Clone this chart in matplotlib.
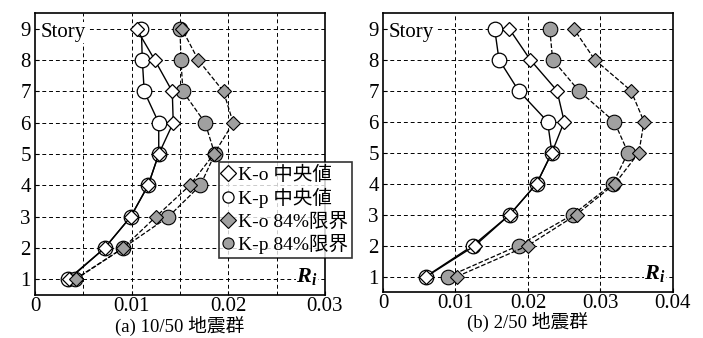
import numpy as np
import matplotlib.pyplot as plt

plt.rcParams['font.family'] = ['Liberation Serif', 'Noto Sans CJK JP']
plt.rcParams['mathtext.fontset'] = 'custom'
plt.rcParams['mathtext.bf'] = 'Liberation Serif:bold:italic'
plt.rcParams['mathtext.rm'] = 'Liberation Serif'

story = [1, 2, 3, 4, 5, 6, 7, 8, 9]

# (a) 10/50
a_ko_med = [0.0035, 0.0072, 0.0099, 0.0117, 0.0128, 0.0143, 0.0142, 0.0124, 0.0105]
a_kp_med = [0.0034, 0.0072, 0.0099, 0.0117, 0.0128, 0.0128, 0.0113, 0.0111, 0.0110]
a_ko_84 = [0.0042, 0.0091, 0.0125, 0.0160, 0.0185, 0.0205, 0.0195, 0.0169, 0.0152]
a_kp_84 = [0.0041, 0.0091, 0.0138, 0.0171, 0.0186, 0.0176, 0.0153, 0.0151, 0.0150]

# (b) 2/50
b_ko_med = [0.0060, 0.0127, 0.0175, 0.0212, 0.0233, 0.0250, 0.0240, 0.0203, 0.0174]
b_kp_med = [0.0059, 0.0124, 0.0175, 0.0212, 0.0233, 0.0227, 0.0187, 0.0160, 0.0154]
b_ko_84 = [0.0102, 0.0200, 0.0267, 0.0320, 0.0353, 0.0360, 0.0342, 0.0292, 0.0263]
b_kp_84 = [0.0090, 0.0187, 0.0262, 0.0317, 0.0338, 0.0319, 0.0270, 0.0234, 0.0230]

labels = ['K-o 中央値', 'K-p 中央値', 'K-o 84%限界', 'K-p 84%限界']
gray = '#a0a0a0'

fig = plt.figure(figsize=(7.03, 3.38), dpi=100)
ax1 = fig.add_axes([0.0498, 0.127, 0.4125, 0.834])
ax2 = fig.add_axes([0.5448, 0.136, 0.4125, 0.825])


def draw(ax, ko_med, kp_med, ko_84, kp_84, xmax, xgrid, xticks, caption):
    h = []
    h += ax.plot(ko_med, story, '-', color='black', lw=1.0, marker='D', ms=7.5,
                 mfc='white', mec='black', mew=0.9, zorder=4)
    h += ax.plot(kp_med, story, '-', color='black', lw=1.0, marker='o', ms=10.5,
                 mfc='white', mec='black', mew=0.9, zorder=3)
    h += ax.plot(ko_84, story, '--', color='black', lw=0.9, marker='D', ms=7.5,
                 mfc=gray, mec='black', mew=0.8, zorder=4)
    h += ax.plot(kp_84, story, '--', color='black', lw=0.9, marker='o', ms=10.5,
                 mfc=gray, mec='black', mew=0.8, zorder=3)
    ax.set_xlim(0, xmax)
    ax.set_ylim(0.5, 9.5)
    ax.set_yticks(story)
    ax.set_xticks(xticks)
    ax.set_xticklabels(['0' if t == 0 else '%g' % t for t in xticks])
    for g in xgrid:
        ax.axvline(g, color='black', ls=(0, (4, 3)), lw=0.7, zorder=1)
    for s in story:
        ax.axhline(s, color='black', ls=(0, (4, 3)), lw=0.7, zorder=1)
    ax.tick_params(direction='in', length=3, labelsize=15)
    ax.tick_params(axis='x', pad=1.5)
    ax.tick_params(axis='y', pad=3)
    for sp in ax.spines.values():
        sp.set_linewidth(1.2)
    ax.text(0.02, 0.965, 'Story', transform=ax.transAxes, fontsize=15,
            va='top', ha='left', zorder=5,
            bbox=dict(facecolor='white', edgecolor='none', pad=0.5))
    ax.text(0.975, 0.03, r'$\mathbf{R_i}$', transform=ax.transAxes,
            fontsize=16, va='bottom', ha='right', zorder=5,
            bbox=dict(facecolor='white', edgecolor='none', pad=0.5))
    ax.set_xlabel(caption, fontsize=13.5, labelpad=-0.5)
    return h


h = draw(ax1, a_ko_med, a_kp_med, a_ko_84, a_kp_84, 0.03,
         np.arange(0.005, 0.03, 0.005), [0, 0.01, 0.02, 0.03], '(a) 10/50 地震群')
draw(ax2, b_ko_med, b_kp_med, b_ko_84, b_kp_84, 0.04,
     [0.01, 0.02, 0.03], [0, 0.01, 0.02, 0.03, 0.04], '(b) 2/50 地震群')

leg = fig.legend(h, labels, loc='upper left', bbox_to_anchor=(0.311, 0.52),
                 fontsize=14, frameon=True, fancybox=False, edgecolor='black',
                 handlelength=0.6, handletextpad=0.2, borderpad=0.2,
                 labelspacing=0.2, borderaxespad=0)
for line in leg.get_lines():
    line.set_linestyle('none')
    line.set_markersize(8)
leg.get_frame().set_linewidth(1.2)

plt.savefig('out.png', dpi=100)
